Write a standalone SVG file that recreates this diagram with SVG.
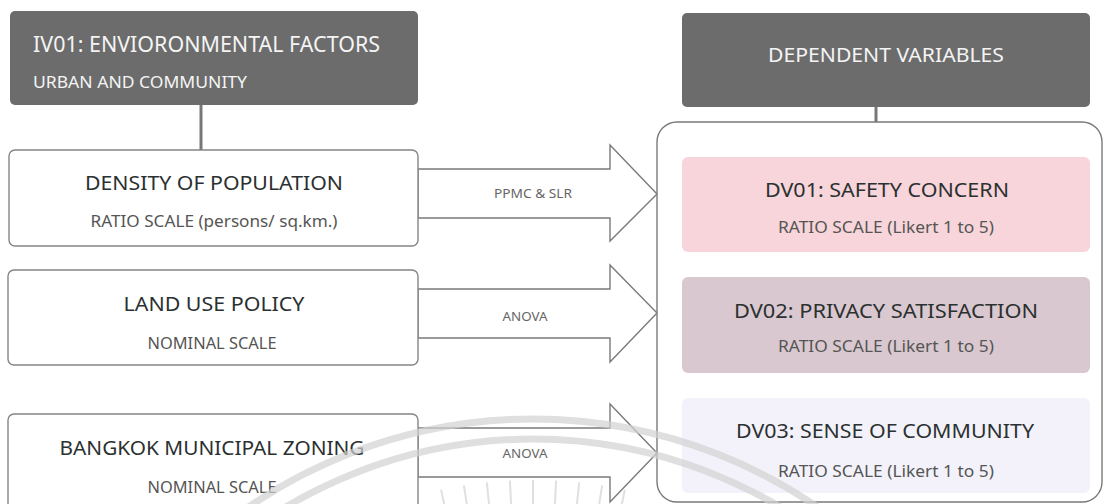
<svg xmlns="http://www.w3.org/2000/svg" width="1104" height="504" viewBox="0 0 1104 504">
<style>
  text { font-family: "Noto Sans", "Open Sans", "Liberation Sans", sans-serif; }
  .hdr { fill: #6c6c6c; }
  .hdrt { fill: #f4f4f4; }
  .box { fill: #ffffff; stroke: #858585; stroke-width: 1.4; }
  .t1 { fill: #2b3030; font-size: 20.5px; text-anchor: middle; }
  .t2 { fill: #555; font-size: 16.5px; text-anchor: middle; }
  .lab { fill: #666; font-size: 12.5px; text-anchor: middle; }
  .arrow { fill: #ffffff; stroke: #7a7a7a; stroke-width: 1.4; stroke-linejoin: miter; }
  .stem { stroke: #777; stroke-width: 3; }
  .wm { fill: none; stroke: #d2d2d2; stroke-width: 7; opacity: 0.7; }
  .ray { stroke: #d4d4d4; stroke-width: 2; opacity: 0.7; }
</style>

<g id="connectors">
  <line class="stem" x1="201" y1="105" x2="201" y2="150"/>
  <line class="stem" x1="876" y1="107" x2="876" y2="122"/>
  <polygon class="arrow" points="418,169 610,169 610,145 657,194 610,241 610,218 418,218"/>
  <polygon class="arrow" points="418,289 610,289 610,265 657,313 610,362 610,338 418,338"/>
  <polygon class="arrow" points="418,428 610,428 610,404 657,453 610,502 610,477 418,477"/>
  <text class="lab" x="533" y="198" textLength="78" lengthAdjust="spacingAndGlyphs">PPMC &amp; SLR</text>
  <text class="lab" x="525" y="321" textLength="45" lengthAdjust="spacingAndGlyphs">ANOVA</text>
  <text class="lab" x="525" y="458" textLength="45" lengthAdjust="spacingAndGlyphs">ANOVA</text>
</g>

<g id="iv01-header">
  <rect class="hdr" x="10" y="11" width="408" height="94" rx="5"/>
  <text class="hdrt" x="33" y="52" font-size="22" textLength="347" lengthAdjust="spacingAndGlyphs">IV01: ENVIORONMENTAL FACTORS</text>
  <text class="hdrt" x="33" y="88" font-size="17" textLength="214" lengthAdjust="spacingAndGlyphs">URBAN AND COMMUNITY</text>
</g>

<g id="density">
  <rect class="box" x="9" y="150" width="409" height="96" rx="6"/>
  <text class="t1" x="214" y="190" textLength="258" lengthAdjust="spacingAndGlyphs">DENSITY OF POPULATION</text>
  <text class="t2" x="214" y="227" textLength="247" lengthAdjust="spacingAndGlyphs">RATIO SCALE (persons/ sq.km.)</text>
</g>

<g id="landuse">
  <rect class="box" x="8" y="270" width="410" height="95" rx="6"/>
  <text class="t1" x="214" y="311" textLength="181" lengthAdjust="spacingAndGlyphs">LAND USE POLICY</text>
  <text class="t2" x="212" y="349" textLength="129" lengthAdjust="spacingAndGlyphs">NOMINAL SCALE</text>
</g>

<g id="zoning">
  <rect class="box" x="8" y="414" width="410" height="110" rx="6"/>
  <text class="t1" x="212" y="455" textLength="305" lengthAdjust="spacingAndGlyphs">BANGKOK MUNICIPAL ZONING</text>
  <text class="t2" x="212" y="493" textLength="129" lengthAdjust="spacingAndGlyphs">NOMINAL SCALE</text>
</g>

<g id="dv-header">
  <rect class="hdr" x="682" y="13" width="408" height="94" rx="5"/>
  <text class="hdrt" x="886" y="62" font-size="20.5" text-anchor="middle" textLength="236" lengthAdjust="spacingAndGlyphs">DEPENDENT VARIABLES</text>
</g>

<g id="dv-container">
  <rect x="657" y="122" width="445" height="380" rx="20" fill="#ffffff" stroke="#7a7a7a" stroke-width="1.4"/>
</g>

<g id="dv01">
  <rect x="682" y="157" width="408" height="95" rx="6" fill="#f7d5da"/>
  <text class="t1" x="887" y="197" textLength="244" lengthAdjust="spacingAndGlyphs">DV01: SAFETY CONCERN</text>
  <text class="t2" x="886" y="233" textLength="216" lengthAdjust="spacingAndGlyphs">RATIO SCALE (Likert 1 to 5)</text>
</g>

<g id="dv02">
  <rect x="682" y="277" width="408" height="96" rx="6" fill="#d9c8cf"/>
  <text class="t1" x="886" y="318" textLength="304" lengthAdjust="spacingAndGlyphs">DV02: PRIVACY SATISFACTION</text>
  <text class="t2" x="886" y="352" textLength="216" lengthAdjust="spacingAndGlyphs">RATIO SCALE (Likert 1 to 5)</text>
</g>

<g id="dv03">
  <rect x="682" y="398" width="408" height="95" rx="6" fill="#f3f2fa"/>
  <text class="t1" x="885" y="438" textLength="298" lengthAdjust="spacingAndGlyphs">DV03: SENSE OF COMMUNITY</text>
  <text class="t2" x="886" y="477" textLength="216" lengthAdjust="spacingAndGlyphs">RATIO SCALE (Likert 1 to 5)</text>
</g>

<g id="watermark">
  <circle class="wm" cx="533" cy="922" r="503"/>
  <circle class="wm" cx="533" cy="922" r="483"/>
  <g transform="translate(533,922)">
    <line class="ray" x1="0" y1="-418" x2="0" y2="-442" transform="rotate(-12)"/>
    <line class="ray" x1="0" y1="-418" x2="0" y2="-442" transform="rotate(-9)"/>
    <line class="ray" x1="0" y1="-418" x2="0" y2="-442" transform="rotate(-6)"/>
    <line class="ray" x1="0" y1="-418" x2="0" y2="-442" transform="rotate(-3)"/>
    <line class="ray" x1="0" y1="-418" x2="0" y2="-442" transform="rotate(0)"/>
    <line class="ray" x1="0" y1="-418" x2="0" y2="-442" transform="rotate(3)"/>
    <line class="ray" x1="0" y1="-418" x2="0" y2="-442" transform="rotate(6)"/>
    <line class="ray" x1="0" y1="-418" x2="0" y2="-442" transform="rotate(9)"/>
    <line class="ray" x1="0" y1="-418" x2="0" y2="-442" transform="rotate(12)"/>
  </g>
</g>
</svg>
